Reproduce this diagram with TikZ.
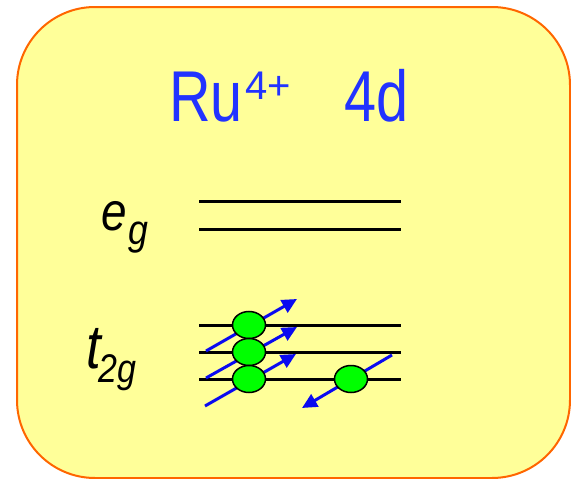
\documentclass[tikz,border=0pt]{standalone}
\usepackage{fontspec}
\setmainfont{Liberation Sans}
\usetikzlibrary{arrows.meta,shapes.geometric}
\definecolor{boxfill}{RGB}{255,255,153}
\definecolor{boxline}{RGB}{255,102,0}
\definecolor{txtblue}{RGB}{34,51,255}
\definecolor{spinblue}{RGB}{10,10,240}
\definecolor{elgreen}{RGB}{0,255,0}
\begin{document}
\begin{tikzpicture}[x=1pt,y=-1pt,
  levelline/.style={line width=3pt,black},
  spin/.style={line width=3pt,spinblue,-{Triangle[length=15pt,width=14pt]}},
  electron/.style={ellipse,draw=black,line width=1.5pt,fill=elgreen,minimum width=33pt,minimum height=27pt,inner sep=0pt},
  title/.style={anchor=base west,txtblue,inner sep=0pt,xscale=0.8},
  orb/.style={anchor=base west,black,inner sep=0pt,xscale=0.85}]
\useasboundingbox (0,0) rectangle (571,479);
\draw[boxline,fill=boxfill,line width=2pt,rounded corners=78pt] (17,7) rectangle (570,478);
% title
\node[title,font=\fontsize{72}{72}\selectfont] (ru) at (169,121) {Ru};
\node[title,xscale=1.25,font=\fontsize{40}{40}\selectfont] (charge) at (245,99.5) {4+};
\node[title,font=\fontsize{72}{72}\selectfont] (shell) at (344,121) {4d};
% orbital labels
\node[orb,font=\itshape\fontsize{54}{54}\selectfont] (e) at (101,230) {e};
\node[orb,font=\itshape\fontsize{42}{42}\selectfont] (eg) at (128,244) {g};
\node[orb,font=\itshape\fontsize{62}{62}\selectfont] (t) at (86,368) {t};
\node[orb,font=\itshape\fontsize{40}{40}\selectfont] (t2g) at (98,382) {2g};
% levels
\coordinate (eg1a) at (199,201); \coordinate (eg1b) at (401,201);
\coordinate (eg2a) at (199,229); \coordinate (eg2b) at (401,229);
\coordinate (t1a) at (199,325); \coordinate (t1b) at (401,325);
\coordinate (t2a) at (199,352); \coordinate (t2b) at (401,352);
\coordinate (t3a) at (199,379); \coordinate (t3b) at (401,379);
\draw[levelline] (eg1a) -- (eg1b);
\draw[levelline] (eg2a) -- (eg2b);
\draw[levelline] (t1a) -- (t1b);
\draw[levelline] (t2a) -- (t2b);
\draw[levelline] (t3a) -- (t3b);
% spins
\coordinate (u1s) at (206,351); \coordinate (u1e) at (297,299);
\coordinate (u2s) at (206,378); \coordinate (u2e) at (297,327);
\coordinate (u3s) at (205,406); \coordinate (u3e) at (296,354);
\coordinate (d1s) at (392,355); \coordinate (d1e) at (302,408);
\draw[spin] (u1s) -- (u1e);
\draw[spin] (u2s) -- (u2e);
\draw[spin] (u3s) -- (u3e);
\draw[spin] (d1s) -- (d1e);
% electrons
\node[electron] (el1) at (249,325) {};
\node[electron] (el2) at (249,352) {};
\node[electron] (el3) at (249,379) {};
\node[electron] (el4) at (351,379) {};
\end{tikzpicture}
\end{document}
